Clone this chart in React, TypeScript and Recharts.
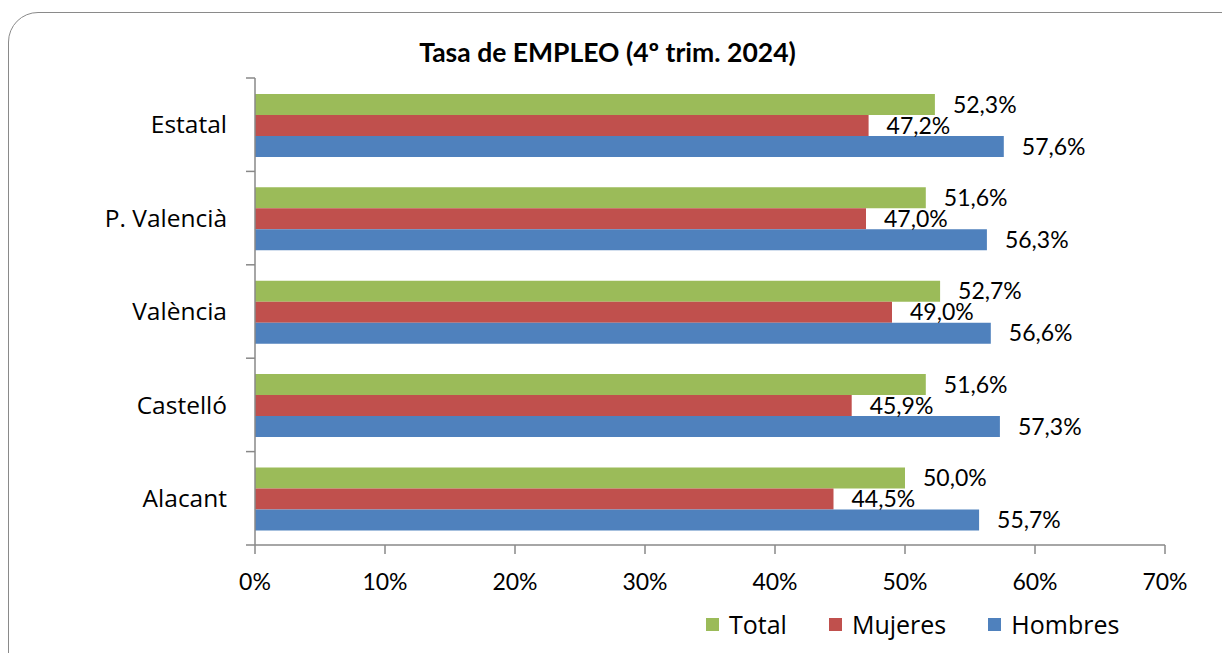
import React from "react";
import { Bar, BarChart, LabelList, XAxis, YAxis } from "recharts";

const categories = ["Estatal", "P. Valencià", "València", "Castelló", "Alacant"];
const total = [52.3, 51.6, 52.7, 51.6, 50.0];
const mujeres = [47.2, 47.0, 49.0, 45.9, 44.5];
const hombres = [57.6, 56.3, 56.6, 57.3, 55.7];
const xTicks = [0, 10, 20, 30, 40, 50, 60, 70];

const series = [
  { key: "total", name: "Total", color: "#9BBB59" },
  { key: "mujeres", name: "Mujeres", color: "#C0504D" },
  { key: "hombres", name: "Hombres", color: "#4F81BD" },
];

const data = categories.map((name, i) => ({
  name,
  total: total[i],
  mujeres: mujeres[i],
  hombres: hombres[i],
}));

const LATO = "Lato, sans-serif";
const OPEN = "'Open Sans', sans-serif";
const AXIS = "#888888";

const W = 1222;
const H = 653;
const PLOT_LEFT = 255;
const PLOT_TOP = 78;
const PLOT_BOTTOM = 545;
const PLOT_RIGHT = 1165;
const X_AXIS_H = 60;
const BAND = (PLOT_BOTTOM - PLOT_TOP) / categories.length;

const fmt = (v: number) => v.toFixed(1).replace(".", ",") + "%";

// category ticks sit on the band edges, like the spreadsheet original
const CategoryTick = (props: any) => {
  const { x, y, payload, index } = props;
  const top = y - BAND / 2;
  const bottom = y + BAND / 2;
  return (
    <g>
      <line x1={PLOT_LEFT - 9} x2={PLOT_LEFT} y1={top} y2={top} stroke={AXIS} strokeWidth={1.5} />
      {index === categories.length - 1 && (
        <line x1={PLOT_LEFT - 9} x2={PLOT_LEFT} y1={bottom} y2={bottom} stroke={AXIS} strokeWidth={1.5} />
      )}
      <text x={x} y={y} dy={8.7} textAnchor="end" fill="#000" fontSize={24.5} fontFamily={OPEN}>
        {payload.value}
      </text>
    </g>
  );
};

export default function App() {
  return (
    <div
      style={{
        position: "absolute",
        left: 0,
        top: 0,
        width: W,
        height: H,
        overflow: "hidden",
        background: "#fff",
      }}
    >
      <div
        style={{
          position: "absolute",
          left: 8,
          top: 12,
          width: 1260,
          height: 700,
          border: "1.5px solid #8a8a8a",
          borderRadius: 30,
          boxSizing: "border-box",
        }}
      />
      <div
        style={{
          position: "absolute",
          left: 0,
          width: 1215,
          top: 37,
          textAlign: "center",
          fontWeight: 700,
          fontSize: 26.5,
          lineHeight: 1.2,
          fontFamily: LATO,
          color: "#000",
        }}
      >
        Tasa de EMPLEO (4º trim. 2024)
      </div>
      <div style={{ position: "absolute", left: 0, top: 0 }}>
        <BarChart
          width={W}
          height={H}
          data={data}
          layout="vertical"
          margin={{ top: PLOT_TOP, right: W - PLOT_RIGHT, bottom: H - PLOT_BOTTOM - X_AXIS_H, left: 0 }}
          barCategoryGap="17%"
          barGap={0}
        >
          <XAxis
            type="number"
            domain={[0, 70]}
            ticks={xTicks}
            interval={0}
            height={X_AXIS_H}
            tickFormatter={(v: number) => v + "%"}
            axisLine={{ stroke: AXIS, strokeWidth: 1.5 }}
            tickLine={{ stroke: AXIS, strokeWidth: 1.5 }}
            tickSize={9}
            tickMargin={20}
            tick={{ fill: "#000", fontSize: 23, fontFamily: LATO }}
          />
          <YAxis
            type="category"
            dataKey="name"
            width={PLOT_LEFT}
            axisLine={{ stroke: AXIS, strokeWidth: 1.5 }}
            tickLine={false}
            tickSize={0}
            tickMargin={28}
            interval={0}
            tick={<CategoryTick />}
          />
          {series.map((s) => (
            <Bar key={s.key} dataKey={s.key} name={s.name} fill={s.color} isAnimationActive={false}>
              <LabelList
                dataKey={s.key}
                position="right"
                offset={18}
                formatter={(v: any) => fmt(Number(v))}
                fill="#000"
                fontSize={23}
                fontFamily={LATO}
              />
            </Bar>
          ))}
        </BarChart>
      </div>
      <div
        style={{
          position: "absolute",
          left: 706,
          top: 607,
          display: "flex",
          alignItems: "center",
          fontSize: 25,
          fontFamily: OPEN,
          color: "#000",
        }}
      >
        {series.map((s, i) => (
          <div
            key={s.key}
            style={{ display: "flex", alignItems: "center", marginRight: i < series.length - 1 ? 42 : 0 }}
          >
            <span style={{ width: 13, height: 13, background: s.color, marginRight: 10, display: "inline-block" }} />
            <span>{s.name}</span>
          </div>
        ))}
      </div>
    </div>
  );
}
